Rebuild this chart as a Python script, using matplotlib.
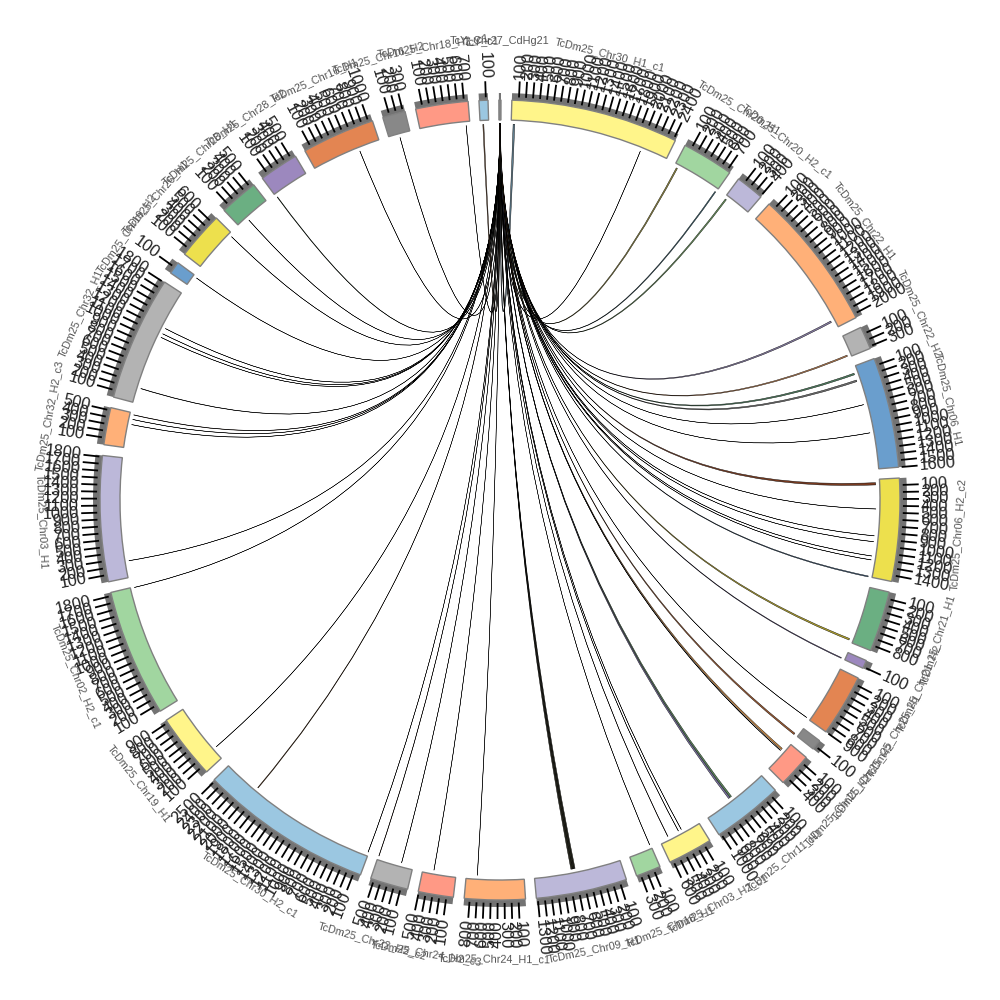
#!/usr/bin/env python3
import numpy as np
import matplotlib
matplotlib.use("Agg")
import matplotlib.pyplot as plt
from matplotlib.patches import Wedge, PathPatch
from matplotlib.path import Path

plt.rcParams["font.family"] = "Liberation Sans"

# sectors, clockwise from the top
names = [
    "TcDm25_Chr30_H1_c1", "TcDm25_Chr20_H1", "TcDm25_Chr20_H2_c1", "TcDm25_Chr22_H1",
    "TcDm25_Chr22_H2", "TcDm25_Chr06_H1", "TcDm25_Chr06_H2_c2", "TcDm25_Chr21_H1",
    "TcDm25_Chr21_H2", "TcDm25_Chr25_H1", "TcDm25_Chr25_H2", "TcDm25_Chr11_H2",
    "TcDm25_Chr11_H1", "TcDm25_Chr03_H2_c1", "TcDm25_Chr18_H1", "TcDm25_Chr09_H1",
    "TcDm25_Chr24_H1_c1", "TcDm25_Chr24_H2_c3", "TcDm25_Chr22_H2_c2", "TcDm25_Chr30_H2_c1",
    "TcDm25_Chr19_H1", "TcDm25_Chr02_H2_c1", "TcDm25_Chr03_H1", "TcDm25_Chr32_H2_c3",
    "TcDm25_Chr32_H1", "TcDm25_Chr19_H2", "TcDm25_Chr26_H1", "TcDm25_Chr28_H1",
    "TcDm25_Chr28_H2", "TcDm25_Chr16_H1", "TcDm25_Chr16_H2", "TcDm25_Chr18_H2_c1",
    "TcY_c1", "TcY_Chr27_CdHg21",
]
sizes = [
    2430, 750, 410, 2060, 330, 1600, 1490, 880, 120, 900, 150, 490,
    1030, 650, 360, 1320, 880, 510, 550, 2520, 940, 1850, 1820, 540,
    1810, 180, 690, 560, 570, 1060, 330, 760, 130, 30,
]
colors = [
    "#FFF58A", "#A1D6A0", "#BCB8D9", "#FFB078", "#B3B3B3", "#6A9ECD", "#EDE04D", "#6BAF82",
    "#9C88BE", "#E38552", "#888888", "#FF9985", "#9BC7E1", "#FFF58A", "#A1D6A0", "#BCB8D9",
    "#FFB078", "#FF9985", "#B3B3B3", "#9BC7E1", "#FFF58A", "#A1D6A0", "#BCB8D9", "#FFB078",
    "#B3B3B3", "#6A9ECD", "#EDE04D", "#6BAF82", "#9C88BE", "#E38552", "#888888", "#FF9985",
    "#9BC7E1", "#888888",
]

# links, all of them run to the last tiny sector
link_sector = [
    0, 0, 1, 1, 2, 3, 4, 5, 5, 5, 5, 6, 6, 6, 6, 6, 6, 6, 7, 8, 9, 10, 11, 11,
    12, 12, 13, 13, 13, 14, 15, 15, 15, 16, 17, 18, 18, 19, 19, 20, 21, 22, 23, 23, 23,
    24, 24, 24, 24, 25, 26, 27, 28, 29, 30, 31, 32,
]
link_pos = [
    30, 2020, 40, 730, 20, 1930, 290, 100, 210, 600, 1040, 50, 450, 860, 950, 1170, 1230, 1480,
    830, 110, 890, 135, 130, 170, 550, 580, 280, 330, 510, 10, 690, 710, 730, 710, 340,
    180, 540, 10, 1960, 180, 1840, 250, 360, 440, 510, 230, 1070, 1130, 1220, 160, 650,
    170, 10, 730, 160, 700, 40,
]
link_width = [
    25, 3, 20, 15, 20, 25, 20, 25, 25, 3, 3, 35, 3, 3, 3, 3, 3, 15, 25, 12, 3, 25, 25, 3,
    25, 25, 3, 3, 5, 3, 25, 25, 25, 3, 3, 3, 5, 3, 10, 3, 3, 3, 3, 3, 5,
    5, 3, 3, 3, 3, 3, 3, 8, 3, 3, 3, 15,
]
link_color = [
    "#5f7f90", "k", "#9a9040", "#3f6f80", "#6f9f60", "#8a7fa8", "#c08050", "#4f8060", "#707070",
    "k", "k", "#7a3b20", "k", "k", "k", "k", "k", "#3f5f80", "#b5a52a", "#6f5f98", "k", "#a05a30",
    "#d08a40", "k", "#5f9060", "#7f78a8", "k", "k", "#4a2020", "k", "#2a2a20", "#2a2a20", "#2a2a20",
    "k", "k", "k", "#5a3020", "k", "#7a4a20", "k", "k", "k", "k", "k", "#5a3020",
    "k", "k", "k", "k", "k", "k", "k", "#2f5030", "k", "k", "k", "#7a5a40",
]
tick_step = 100

first_start = 1.7
deg_per_unit = 0.01
gap = (360 - sum(sizes) * deg_per_unit) / len(sizes)

R_LINK, R_IN, R_OUT, R_BAND = 376, 380, 400, 407
R_TICK0, R_TICK1, R_LABEL, R_NAME = 403, 419, 421, 459


def xy(theta, r):
    t = np.radians(theta)
    return r * np.sin(t), r * np.cos(t)


starts = []
pos = first_start
for s in sizes:
    starts.append(pos)
    pos += s * deg_per_unit + gap

fig = plt.figure(figsize=(10, 10), dpi=100)
ax = fig.add_axes([0, 0, 1, 1])
ax.set_xlim(-500, 500)
ax.set_ylim(-500, 500)
ax.set_aspect("equal")
ax.axis("off")

for name, size, col, start in zip(names, sizes, colors, starts):
    end = start + size * deg_per_unit
    ax.add_patch(Wedge((0, 0), R_BAND, 90 - end, 90 - start, width=R_BAND - R_OUT,
                       facecolor="#737373", edgecolor="none", zorder=2))
    ax.add_patch(Wedge((0, 0), R_OUT, 90 - end, 90 - start, width=R_OUT - R_IN,
                       facecolor=col, edgecolor="#808080", linewidth=1.0, zorder=3))

    for value in range(tick_step, size + 1, tick_step):
        t = start + value * deg_per_unit
        x0, y0 = xy(t, R_TICK0)
        x1, y1 = xy(t, R_TICK1)
        ax.plot([x0, x1], [y0, y1], color="k", lw=1.3, solid_capstyle="butt", zorder=4)
        lx, ly = xy(t, R_LABEL)
        if t < 180:
            ax.text(lx, ly, str(value), rotation=90 - t, rotation_mode="anchor",
                    ha="left", va="center", fontsize=11.8, color="#222222", zorder=5)
        else:
            ax.text(lx, ly, str(value), rotation=270 - t, rotation_mode="anchor",
                    ha="right", va="center", fontsize=11.8, color="#222222", zorder=5)

    mid = (start + end) / 2
    nx, ny = xy(mid, R_NAME)
    rot = 180 - mid if 90 <= mid < 270 else -mid
    ax.text(nx, ny, name, rotation=rot, rotation_mode="anchor", ha="center", va="center",
            fontsize=7.8, color="#555555", zorder=6)

# quadratic curves pulled towards the centre
target = starts[-1] + sizes[-1] * deg_per_unit / 2
for sec, p, w, col in zip(link_sector, link_pos, link_width, link_color):
    t0 = starts[sec] + p * deg_per_unit
    t1 = t0 + w * deg_per_unit
    verts = [xy(t0, R_LINK), (0, 0), xy(target - w * 0.002, R_LINK),
             xy(target + w * 0.002, R_LINK), (0, 0), xy(t1, R_LINK), xy(t0, R_LINK)]
    codes = [Path.MOVETO, Path.CURVE3, Path.CURVE3, Path.LINETO, Path.CURVE3, Path.CURVE3,
             Path.CLOSEPOLY]
    ax.add_patch(PathPatch(Path(verts, codes), facecolor=col, edgecolor="k", linewidth=0.3,
                           zorder=1))

fig.savefig("out.png", dpi=100)
